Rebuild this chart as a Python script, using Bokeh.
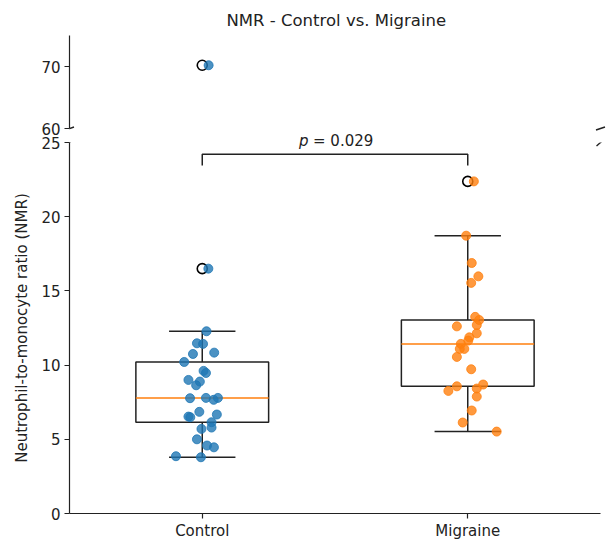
import numpy as np
from bokeh.plotting import figure
from bokeh.layouts import column
from bokeh.models import FixedTicker, Label, Arrow, Range1d
from bokeh.embed import file_html
from bokeh.resources import INLINE

# ---------------- data ----------------
categories = ["Control", "Migraine"]

control_values = [12.28, 11.47, 11.43, 10.75, 10.84, 10.21, 9.61, 9.47, 9.00, 8.89,
                  8.64, 7.77, 7.79, 7.66, 7.79, 6.85, 6.53, 6.49, 6.67, 6.15,
                  5.79, 5.70, 5.00, 4.58, 4.46, 3.86, 3.79, 16.50, 70.20]
control_jitter = [0.016, -0.020, 0.003, -0.035, 0.045, -0.068, 0.005, 0.014, -0.052, -0.009,
                  -0.023, -0.046, 0.014, 0.043, 0.059, -0.011, -0.052, -0.045, 0.055, 0.035,
                  0.035, -0.003, -0.020, 0.018, 0.044, -0.099, -0.005, 0.023, 0.024]

migraine_values = [22.38, 18.72, 16.88, 15.98, 15.54, 13.25, 13.04, 12.70, 12.61, 12.14,
                   11.87, 11.65, 11.43, 11.09, 11.09, 10.55, 9.72, 8.57, 8.26, 8.42,
                   8.69, 7.88, 6.94, 6.13, 5.52]
migraine_jitter = [0.023, -0.006, 0.015, 0.040, 0.013, 0.028, 0.043, 0.034, -0.041, 0.034,
                   0.006, 0.002, -0.026, -0.030, -0.013, -0.041, 0.013, -0.041, -0.073, 0.034,
                   0.058, 0.034, 0.015, -0.019, 0.109]

group_colors = ["#1f77b4", "#ff7f0e"]
p_value_text = "= 0.029"

lower_ticks = [0, 5, 10, 15, 20, 25]
upper_ticks = [60, 70]

# ---------------- style / layout ----------------
FONT = "DejaVu Sans"
AX = "#222222"
TICK_FS = "15px"
X0, X1 = -0.5, 1.5            # axis extent
XS = 531 / (X1 - X0)          # px per x unit
RIGHT_PAD = 8                 # frame continues past the axis end (room for break marks)
FRAME_W = 531 + RIGHT_PAD
XR_END = X1 + RIGHT_PAD / XS
LEFT_B = 69

UP_Y = (60, 75)
UP_YS = 93 / (UP_Y[1] - UP_Y[0])
UP_EXTRA = 22                 # upper frame continues below 60 (room for the p-value text)
UP_H = 93 + UP_EXTRA
UP_BOTTOM = UP_Y[0] - UP_EXTRA / UP_YS

LO_Y = (0, 25)
LO_H = 371
LO_YS = LO_H / (LO_Y[1] - LO_Y[0])


def box_stats(vals):
    v = np.sort(np.asarray(vals, dtype=float))
    q1, med, q3 = np.percentile(v, [25, 50, 75])
    iqr = q3 - q1
    hi = v[v <= q3 + 1.5 * iqr].max()
    lo = v[v >= q1 - 1.5 * iqr].min()
    fl = v[(v > hi) | (v < lo)]
    return q1, med, q3, lo, hi, fl


def style_axis(ax, size=TICK_FS):
    ax.axis_line_color = AX
    ax.axis_line_width = 1.2
    ax.major_tick_line_color = AX
    ax.major_tick_line_width = 1.2
    ax.major_tick_in = 0
    ax.major_tick_out = 5
    ax.minor_tick_line_color = None
    ax.major_label_text_font = FONT
    ax.major_label_text_font_size = size
    ax.major_label_text_color = "#222222"


def make_fig(yr, frame_h, top, bottom, with_x):
    p = figure(frame_width=FRAME_W, frame_height=frame_h,
               x_range=Range1d(X0, XR_END), y_range=Range1d(*yr),
               output_backend="svg", toolbar_location=None,
               min_border_left=LEFT_B, min_border_right=0,
               min_border_top=top, min_border_bottom=bottom,
               x_axis_location="below" if with_x else None)
    p.grid.visible = False
    p.outline_line_color = None
    p.background_fill_color = None
    p.border_fill_color = None
    for ax in p.yaxis:
        style_axis(ax)
        ax.major_label_standoff = 4
    return p


def draw_groups(p):
    data = [(control_values, control_jitter), (migraine_values, migraine_jitter)]
    for i, (vals, jit) in enumerate(data):
        q1, med, q3, lo, hi, fl = box_stats(vals)
        p.segment(x0=[i, i], y0=[q3, q1], x1=[i, i], y1=[hi, lo], line_color=AX, line_width=1.5)
        p.segment(x0=[i - 0.125, i - 0.125], y0=[hi, lo], x1=[i + 0.125, i + 0.125], y1=[hi, lo],
                  line_color=AX, line_width=1.5)
        p.quad(left=[i - 0.25], right=[i + 0.25], bottom=[q1], top=[q3],
               fill_color=None, line_color=AX, line_width=1.5)
        p.segment(x0=[i - 0.25], y0=[med], x1=[i + 0.25], y1=[med],
                  line_color="#ff7f0e", line_width=1.5)
        p.scatter(x=[i] * len(fl), y=list(fl), size=10, fill_color=None,
                  line_color="black", line_width=1.6)
        xs = [i + j for j in jit]
        p.scatter(x=xs, y=vals, size=9, fill_color=group_colors[i], fill_alpha=0.8,
                  line_color=group_colors[i], line_alpha=0.8)


def break_mark(p, xe, ye, yscale, dx, dy):
    p.add_layout(Arrow(end=None, x_start=xe - dx / XS, y_start=ye - dy / yscale,
                       x_end=xe + dx / XS, y_end=ye + dy / yscale,
                       line_color=AX, line_width=1.4))


# ---------------- upper panel ----------------
up = make_fig((UP_BOTTOM, UP_Y[1]), UP_H, 35, 2, False)
up.yaxis.ticker = FixedTicker(ticks=upper_ticks)
up.yaxis.bounds = UP_Y
up.title.text = "NMR - Control vs. Migraine"
up.title.align = "left"
up.title.offset = 157          # centre the title over the axis span (not the padded frame)
up.title.text_font = FONT
up.title.text_font_size = "16.5px"
up.title.text_font_style = "normal"
up.title.text_color = "#222222"
up.title.standoff = 11
# draw only the values that belong to the upper (60-75) part of the broken axis
draw_groups(up)
break_mark(up, X0, UP_Y[0], UP_YS, 4.5, 1.5)
break_mark(up, X1, UP_Y[0], UP_YS, 4.5, 1.5)

# p-value text (sits in the axis break, above the bracket)
P_Y = UP_Y[0] - 12.2 / UP_YS
up.add_layout(Label(x=0.5, y=P_Y, x_offset=-36, text="p", text_font=FONT,
                    text_font_size="15px", text_font_style="italic",
                    text_baseline="alphabetic", text_align="left", text_color="#222222"))
up.add_layout(Label(x=0.5, y=P_Y, x_offset=-22, text=p_value_text, text_font=FONT,
                    text_font_size="15px", text_baseline="alphabetic", text_align="left",
                    text_color="#222222"))

# ---------------- lower panel ----------------
lo = make_fig(LO_Y, LO_H, 14, 25, True)
lo.margin = (-24, 0, 0, 0)     # let the two panels' borders overlap in the axis break
lo.yaxis.ticker = FixedTicker(ticks=lower_ticks)
lo.yaxis.axis_label = "Neutrophil-to-monocyte ratio (NMR)"
lo.yaxis.axis_label_text_font = FONT
lo.yaxis.axis_label_text_font_size = "15px"
lo.yaxis.axis_label_text_font_style = "normal"
lo.yaxis.axis_label_text_color = "#222222"
lo.yaxis.axis_label_standoff = 7
style_axis(lo.xaxis[0], TICK_FS)
lo.xaxis.bounds = (X0, X1)
lo.xaxis.ticker = FixedTicker(ticks=list(range(len(categories))))
lo.xaxis.major_label_overrides = {i: c for i, c in enumerate(categories)}
lo.xaxis.major_label_standoff = 3
draw_groups(lo)
break_mark(lo, X0, LO_Y[1], LO_YS, 4, 3.5)
break_mark(lo, X1, LO_Y[1], LO_YS, 4, 3.5)

# significance bracket
lo.line(x=[0, 0, 1, 1], y=[23.45, 24.2, 24.2, 23.45], line_color=AX, line_width=1.5)

layout = column(up, lo, spacing=0)
open("out.html", "w").write(file_html(layout, INLINE))
